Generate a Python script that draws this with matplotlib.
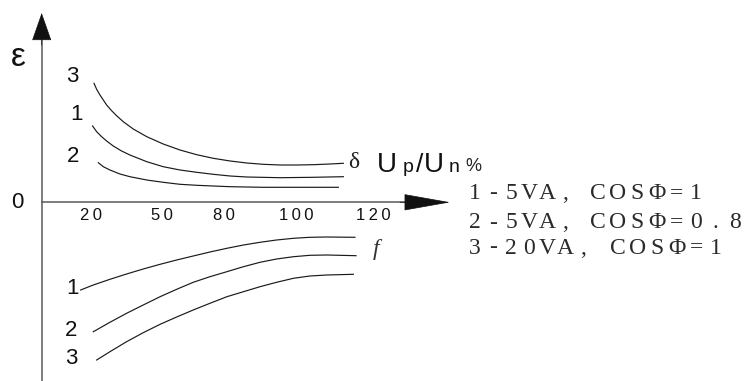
import numpy as np
import matplotlib
matplotlib.use('Agg')
import matplotlib.pyplot as plt

W, H = 744, 381

# Up/Un, %  -- values written under the horizontal axis
x_ticks = [20, 50, 80, 100, 120]
x_tick_labels = ['2\u20090', '5\u20090', '8\u20090', '1\u20090\u20090', '1\u20092\u20090']

# delta curves (above the axis), eps in arbitrary units
d3_x = [21.4, 22.5, 23.9, 25.3, 26.7, 28.8, 30.9, 33.7, 37.9, 43.6, 50.6,
        58.7, 66.8, 74.8, 81.7, 86.3, 90.9, 95.6, 100.2, 104.5, 108.8, 112.3]
d3_y = [11.90, 11.30, 10.73, 10.23, 9.73, 9.16, 8.66, 8.06, 7.33, 6.56, 5.83,
        5.23, 4.76, 4.40, 4.13, 3.93, 3.80, 3.73, 3.73, 3.76, 3.83, 3.90]
d1_x = [20.8, 22.5, 24.6, 26.7, 29.5, 33.0, 36.5, 43.6, 50.6, 58.7, 66.8,
        74.8, 81.7, 86.3, 95.6, 104.5, 112.3]
d1_y = [7.63, 7.06, 6.56, 6.13, 5.63, 5.13, 4.73, 4.06, 3.56, 3.23, 3.00,
        2.80, 2.63, 2.53, 2.46, 2.50, 2.56]
d2_x = [23.2, 25.3, 28.1, 32.3, 36.5, 43.6, 50.6, 58.7, 66.8, 74.8, 81.7,
        90.9, 100.2, 111.0]
d2_y = [3.96, 3.56, 3.23, 2.83, 2.56, 2.23, 2.00, 1.80, 1.70, 1.63, 1.56,
        1.50, 1.50, 1.50]

# f curves (below the axis)
f1_x = [15.9, 21.1, 28.1, 35.1, 42.1, 49.2, 57.1, 65.1, 73.2, 80.8, 85.4,
        90.0, 94.6, 99.3, 103.6, 108.0, 115.3]
f1_y = [-8.77, -8.27, -7.70, -7.17, -6.67, -6.20, -5.77, -5.37, -4.97, -4.60,
        -4.27, -4.00, -3.77, -3.60, -3.50, -3.47, -3.50]
f2_x = [21.1, 28.1, 35.1, 42.1, 49.2, 57.1, 65.1, 73.2, 80.8, 85.4, 90.0,
        94.6, 99.3, 103.6, 108.0, 115.6]
f2_y = [-12.94, -12.00, -11.10, -10.27, -9.44, -8.70, -8.00, -7.44, -6.94,
        -6.44, -6.00, -5.67, -5.44, -5.30, -5.27, -5.34]
f3_x = [22.5, 28.1, 35.1, 42.1, 49.2, 57.1, 65.1, 73.2, 80.8, 85.4, 90.0,
        94.6, 99.3, 103.6, 108.0, 114.9]
f3_y = [-15.77, -14.94, -13.94, -13.04, -12.20, -11.47, -10.77, -10.10, -9.44,
        -8.94, -8.44, -8.00, -7.60, -7.37, -7.27, -7.20]

legend_head = ['1-5VA,', '2-5VA,', '3-20VA,']
legend_tail = ['COS\u03a6=1', 'COS\u03a6=0.8', 'COS\u03a6=1']

# the drawing is a sketch: the x axis is not linear, tick positions in px
x0_px = 41.7
tick_px = [90.7, 162, 224, 296, 373]
y0_px = 202.3
eps_per_px = 0.1

lo_slope = (tick_px[0] - x0_px) / x_ticks[0]
hi_slope = (tick_px[-1] - tick_px[-2]) / (x_ticks[-1] - x_ticks[-2])
anchor_v = [-100, 0] + x_ticks + [400]
anchor_p = [x0_px - 100 * lo_slope, x0_px] + tick_px + [tick_px[-1] + 280 * hi_slope]


def fwd(v):
    return np.interp(v, anchor_v, anchor_p)


def inv(p):
    return np.interp(p, anchor_p, anchor_v)


def eps(py):
    return (y0_px - py) * eps_per_px


fig = plt.figure(figsize=(W / 100, H / 100), dpi=100)
ax = fig.add_axes([0, 0, 1, 1])
ax.set_xscale('function', functions=(fwd, inv))
ax.set_xlim(inv(0), inv(W))
ax.set_ylim(eps(H), eps(0))
ax.axis('off')

# axes with arrow heads
axis_col = '#5a5a5a'
ax.plot([0, inv(420)], [0, 0], color=axis_col, lw=1.1)
ax.plot([0, 0], [eps(H), eps(30)], color=axis_col, lw=1.1)
ax.annotate('', xy=(inv(450), 0), xytext=(inv(400), 0),
            arrowprops=dict(arrowstyle='-|>,head_length=3.1,head_width=0.55',
                            mutation_scale=10, color='#111111', lw=0.5,
                            shrinkA=0, shrinkB=0))
ax.annotate('', xy=(0, eps(13)), xytext=(0, eps(45)),
            arrowprops=dict(arrowstyle='-|>,head_length=1.85,head_width=0.65',
                            mutation_scale=10, color='#111111', lw=0.5,
                            shrinkA=0, shrinkB=0))

for xs, ys in [(d3_x, d3_y), (d1_x, d1_y), (d2_x, d2_y),
               (f1_x, f1_y), (f2_x, f2_y), (f3_x, f3_y)]:
    ax.plot(xs, ys, color='#1a1a1a', lw=0.85, solid_joinstyle='round')

sans = ['Liberation Sans', 'DejaVu Sans']
serif = ['Liberation Serif', 'DejaVu Serif']

for v, lab in zip(x_ticks, x_tick_labels):
    ax.text(v, eps(215), lab, ha='center', va='center', fontsize=12,
            family=sans, color='#111111')


def ptext(x, y, s, **kw):
    kw.setdefault('ha', 'center')
    kw.setdefault('va', 'center')
    fig.text(x / W, 1 - y / H, s, **kw)


ptext(18, 58, '\u03b5', fontsize=24, family=sans, color='#111111')
ptext(17, 203, '0', fontsize=16, family=sans, color='#111111')
for s, x, y in [('3', 72, 76), ('1', 76, 115), ('2', 73, 157),
                ('1', 72, 288), ('2', 71, 330), ('3', 71, 358)]:
    ptext(x, y, s, fontsize=16, family=sans, color='#111111')

ptext(354, 163, '\u03b4', fontsize=17, family=serif, color='#222222')
ptext(376, 249, 'f', fontsize=17, family=serif, style='italic', color='#333333')

# Up/Un %
base = 171.7
ptext(387, base, 'U', fontsize=20, family=sans, va='baseline', color='#111111')
ptext(408, base, 'p', fontsize=14, family=sans, va='baseline', color='#111111')
ptext(420, base, '/', fontsize=19, family=sans, va='baseline', color='#111111')
ptext(434, base, 'U', fontsize=20, family=sans, va='baseline', color='#111111')
ptext(454, base, 'n', fontsize=14, family=sans, va='baseline', color='#111111')
ptext(473, base - 0.5, '%', fontsize=13, family=sans, va='baseline', color='#222222')

# legend, one glyph per cell like the original full-width text
for head, tail, yb, tail_x in zip(legend_head, legend_tail,
                                  [199.0, 228.5, 253.5], [598, 598, 618]):
    for i, ch in enumerate(head):
        ptext(475 + i * 18.0, yb, ch, fontsize=17, family=serif,
              va='baseline', color='#2a2a2a')
    for i, ch in enumerate(tail):
        ptext(tail_x + i * 19.6, yb, ch, fontsize=17, family=serif,
              va='baseline', color='#2a2a2a')

fig.savefig('out.png', dpi=100)
